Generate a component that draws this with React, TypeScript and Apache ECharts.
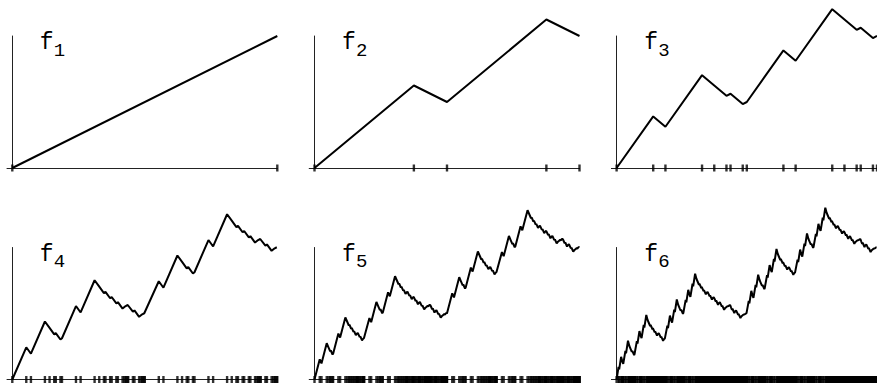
import React, { useEffect, useRef } from "react";
import * as echarts from "echarts";

const F1_X = [0, 1];
const F1_Y = [0, 1];
const F2_X = [0, 0.375, 0.5, 0.875, 1];
const F2_Y = [0, 0.625, 0.5, 1.125, 1];
const LABEL_NAMES = ["1", "2", "3", "4", "5", "6"];

function nextLevel(pts: number[][]): number[][] {
  const out: number[][] = [pts[0]];
  for (let i = 0; i < pts.length - 1; i++) {
    const [x0, y0] = pts[i];
    const [x1, y1] = pts[i + 1];
    for (let k = 1; k < F2_X.length; k++) {
      out.push([x0 + (x1 - x0) * F2_X[k], y0 + (y1 - y0) * F2_Y[k]]);
    }
  }
  return out;
}

const levels: number[][][] = [];
levels.push(F1_X.map((x, i) => [x, F1_Y[i]]));
levels.push(F2_X.map((x, i) => [x, F2_Y[i]]));
for (let n = 2; n < LABEL_NAMES.length; n++) levels.push(nextLevel(levels[n - 1]));

export default function App() {
  const ref = useRef<HTMLDivElement>(null);
  useEffect(() => {
    if (!ref.current) return;
    const chart = echarts.init(ref.current, undefined, { renderer: "svg" });
    const originX = [12.3, 314.5, 616.7];
    const baseY = [168, 379.5];
    const W = 265;
    const H = 132;
    const ext = 0.02;
    const grid: any[] = [];
    const xAxis: any[] = [];
    const yAxis: any[] = [];
    const series: any[] = [];
    const graphic: any[] = [];
    levels.forEach((pts, i) => {
      const r = Math.floor(i / 3);
      const c = i % 3;
      const ox = originX[c];
      const by = baseY[r];
      grid.push({ left: ox - ext * W, top: by - H, width: W * (1 + ext), height: H, containLabel: false });
      xAxis.push({
        type: "value", gridIndex: i, min: -ext, max: 1,
        axisLine: { show: true, onZero: true, lineStyle: { color: "#222", width: 1 } },
        axisTick: { show: false }, axisLabel: { show: false }, splitLine: { show: false },
      });
      yAxis.push({
        type: "value", gridIndex: i, min: 0, max: 1,
        axisLine: { show: true, onZero: true, lineStyle: { color: "#222", width: 1 } },
        axisTick: { show: false }, axisLabel: { show: false }, splitLine: { show: false },
      });
      series.push({
        type: "line", xAxisIndex: i, yAxisIndex: i, data: pts,
        showSymbol: false, symbol: "none", clip: false, silent: true,
        lineStyle: { color: "#000", width: 2 }, z: 3,
      });
      series.push({
        type: "scatter", xAxisIndex: i, yAxisIndex: i,
        data: pts.map((p) => [p[0], 0]),
        symbol: "rect", symbolSize: [2.4, 7], clip: false, silent: true,
        itemStyle: { color: "#000" }, z: 4,
      });
      graphic.push({
        type: "text", left: ox + 27.5, top: by - H - 4.5,
        style: { text: "f", font: "23px 'Liberation Mono'", fill: "#000" },
      });
      graphic.push({
        type: "text", left: ox + 41.5, top: by - H + 5,
        style: { text: LABEL_NAMES[i], font: "19px 'Liberation Mono'", fill: "#000" },
      });
    });
    chart.setOption({ animation: false, grid, xAxis, yAxis, series, graphic });
    return () => chart.dispose();
  }, []);
  return (
    <div
      ref={ref}
      style={{ position: "fixed", left: 0, top: 0, width: 877, height: 383, background: "#fff" }}
    />
  );
}
